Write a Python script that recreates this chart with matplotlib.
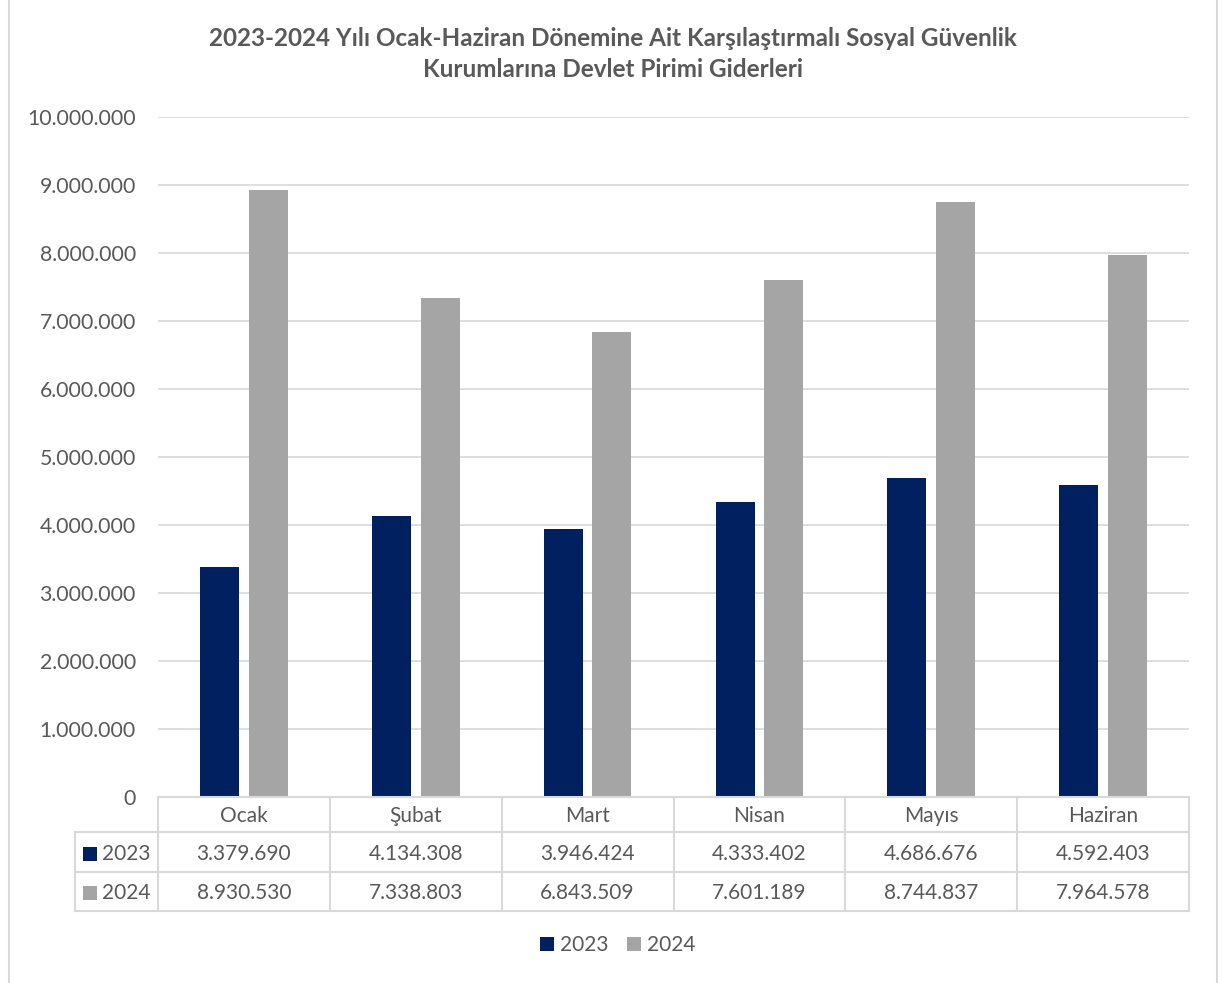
import matplotlib
matplotlib.use("Agg")
import matplotlib.pyplot as plt
from matplotlib.patches import Patch, Rectangle
from matplotlib.lines import Line2D
from matplotlib.transforms import blended_transform_factory
from matplotlib.ticker import FuncFormatter

plt.rcParams['font.family'] = ['Lato', 'DejaVu Sans']

months = ["Ocak", "Şubat", "Mart", "Nisan", "Mayıs", "Haziran"]
series_names = ["2023", "2024"]
values_2023 = [3379690, 4134308, 3946424, 4333402, 4686676, 4592403]
values_2024 = [8930530, 7338803, 6843509, 7601189, 8744837, 7964578]
yticks = [0, 1000000, 2000000, 3000000, 4000000, 5000000, 6000000, 7000000, 8000000, 9000000, 10000000]
title = "2023-2024 Yılı Ocak-Haziran Dönemine Ait Karşılaştırmalı Sosyal Güvenlik\nKurumlarına Devlet Pirimi Giderleri"

C2023 = "#002060"
C2024 = "#A5A5A5"
TXT = "#595959"
GRID = "#D9D9D9"

W, H = 1222, 983
fig = plt.figure(figsize=(W / 100, H / 100), dpi=100)

def fy(py):
    return 1 - py / H

def fx(px):
    return px / W

x0, x1, ytop, ybot = 158, 1189, 117, 797
ax = fig.add_axes([fx(x0), fy(ybot), fx(x1) - fx(x0), fy(ytop) - fy(ybot)])

def fmt(v):
    return f"{int(v):,}".replace(",", ".")

n = len(months)
xs = list(range(n))
bw = 0.227
off = 0.142
ax.bar([x - off for x in xs], values_2023, width=bw, color=C2023, zorder=3)
ax.bar([x + off for x in xs], values_2024, width=bw, color=C2024, zorder=3)

ax.set_xlim(-0.5, n - 0.5)
ax.set_ylim(0, 10000000)
ax.set_yticks(yticks)
ax.yaxis.set_major_formatter(FuncFormatter(lambda v, p: fmt(v)))
ax.tick_params(axis='y', length=0, pad=16, labelsize=15.3, labelcolor=TXT)
ax.tick_params(axis='x', length=0, labelbottom=False)
ax.grid(axis='y', color=GRID, linewidth=1.2, zorder=0)
for s in ax.spines.values():
    s.set_visible(False)

# data table
tr = blended_transform_factory(ax.transData, fig.transFigure)
rows_py = [797, 832, 872, 911]
left_x = -0.5 - (x0 - 75) / ((x1 - x0) / n)
lw = 1.5

def hline(xa, xb, py):
    fig.add_artist(Line2D([xa, xb], [fy(py), fy(py)], transform=tr, color=GRID, lw=lw, clip_on=False))

def vline(x, pa, pb):
    fig.add_artist(Line2D([x, x], [fy(pa), fy(pb)], transform=tr, color=GRID, lw=lw, clip_on=False))

hline(-0.5, n - 0.5, rows_py[0])
hline(left_x, n - 0.5, rows_py[1])
hline(left_x, n - 0.5, rows_py[2])
hline(left_x, n - 0.5, rows_py[3])
for i in range(n + 1):
    vline(i - 0.5, rows_py[0], rows_py[3])
vline(left_x, rows_py[1], rows_py[3])

for i, m in enumerate(months):
    fig.text(i, fy((rows_py[0] + rows_py[1]) / 2 + 2), m, transform=tr, ha='center', va='center',
             fontsize=15, color=TXT)
    fig.text(i, fy((rows_py[1] + rows_py[2]) / 2 + 1.5), fmt(values_2023[i]), transform=tr,
             ha='center', va='center', fontsize=15, color=TXT)
    fig.text(i, fy((rows_py[2] + rows_py[3]) / 2 + 1.5), fmt(values_2024[i]), transform=tr,
             ha='center', va='center', fontsize=15, color=TXT)

for r, (name, col) in enumerate(zip(series_names, [C2023, C2024])):
    pa, pb = rows_py[r + 1], rows_py[r + 2]
    cy = (pa + pb) / 2 + 1.5
    fig.add_artist(Rectangle((fx(83), fy(cy + 7)), fx(14), 14 / H, transform=fig.transFigure,
                             facecolor=col, edgecolor='none'))
    fig.text(fx(102), fy(cy), name, ha='left', va='center', fontsize=15, color=TXT)

# title
fig.text(fx(613), fy(54), title, ha='center', va='center', fontsize=17.5, fontweight='bold',
         color=TXT, linespacing=1.45)

# legend
handles = [Patch(facecolor=C2023, edgecolor='none'), Patch(facecolor=C2024, edgecolor='none')]
fig.legend(handles, series_names, loc='center', bbox_to_anchor=(fx(618), fy(945)), ncol=2,
           frameon=False, fontsize=15, labelcolor=TXT, handlelength=0.65, handleheight=0.65,
           handletextpad=0.3, columnspacing=0.9)

# chart border (left/right)
fig.add_artist(Line2D([fx(8.5), fx(8.5)], [0, 1], transform=fig.transFigure, color=GRID, lw=1.5))
fig.add_artist(Line2D([fx(1216.5), fx(1216.5)], [0, 1], transform=fig.transFigure, color=GRID, lw=1.5))

fig.savefig("out.png", dpi=100, facecolor='white')
